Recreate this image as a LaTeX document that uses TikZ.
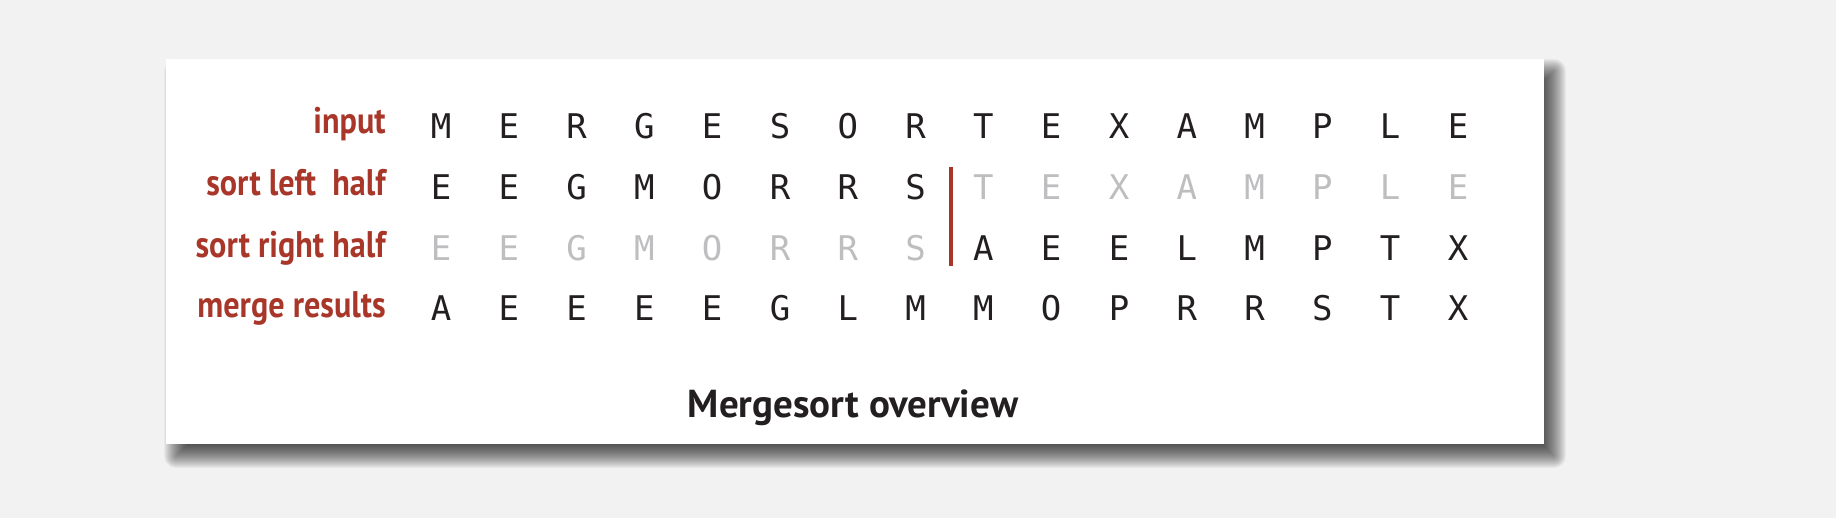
\documentclass[tikz,border=0pt]{standalone}
\usepackage{fontspec}
\setmainfont{PT Sans}
\setmonofont{DejaVu Sans Mono}
\newfontfamily\lablfont[FakeStretch=0.87]{PT Sans}
\definecolor{bg}{HTML}{F2F2F2}
\definecolor{lbl}{HTML}{A8372A}
\definecolor{ink}{HTML}{231F20}
\definecolor{faded}{HTML}{BEBEC0}
\begin{document}
\begin{tikzpicture}[x=0.5pt,y=-0.5pt,
  lab/.style={anchor=base east, text=lbl, inner sep=0pt, font=\lablfont\bfseries\fontsize{18.5}{18.5}\selectfont},
  key/.style={anchor=base, text=ink, inner sep=0pt, font=\ttfamily\fontsize{17}{17}\selectfont},
  keyoff/.style={key, text=faded},
  divider/.style={draw=lbl, line width=2pt},
  titletext/.style={anchor=base, text=ink, inner sep=0pt, font=\bfseries\fontsize{19.5}{19.5}\selectfont}]
\useasboundingbox (0,0) rectangle (1836,518);
\fill[bg] (0,0) rectangle (1836,518);
% soft shadow
\foreach \r in {-12,...,12} {
  \pgfmathsetmacro\rc{max(\r,0.01)*0.5}
  \fill[black, opacity=0.04, rounded corners=\rc pt] (176-\r,71-\r) rectangle (1554+\r,456+\r);
}
\fill[white] (166,59) rectangle (1544,444);
% labels
\node[lab] (linput) at (386,134) {input};
\node[lab] (lleft) at (386,196) {sort left\ \ half};
\node[lab] (lright) at (386,257) {sort right half};
\node[lab] (lmerge) at (386,317) {merge results};
% row 1
\foreach \ch [count=\i from 0] in {M,E,R,G,E,S,O,R,T,E,X,A,M,P,L,E}
  \node[key] (a\i) at (441+67.8*\i,139) {\ch};
% row 2
\foreach \ch [count=\i from 0] in {E,E,G,M,O,R,R,S}
  \node[key] (b\i) at (441+67.8*\i,200) {\ch};
\foreach \ch [count=\i from 8] in {T,E,X,A,M,P,L,E}
  \node[keyoff] (b\i) at (441+67.8*\i,200) {\ch};
% row 3
\foreach \ch [count=\i from 0] in {E,E,G,M,O,R,R,S}
  \node[keyoff] (c\i) at (441+67.8*\i,261) {\ch};
\foreach \ch [count=\i from 8] in {A,E,E,L,M,P,T,X}
  \node[key] (c\i) at (441+67.8*\i,261) {\ch};
% row 4
\foreach \ch [count=\i from 0] in {A,E,E,E,E,G,L,M,M,O,P,R,R,S,T,X}
  \node[key] (d\i) at (441+67.8*\i,321) {\ch};
% divider
\coordinate (bartop) at (951,167);
\coordinate (barbot) at (951,266);
\draw[divider] (bartop) -- (barbot);
% title
\node[titletext] (title) at (853,417) {Mergesort overview};
\end{tikzpicture}
\end{document}
